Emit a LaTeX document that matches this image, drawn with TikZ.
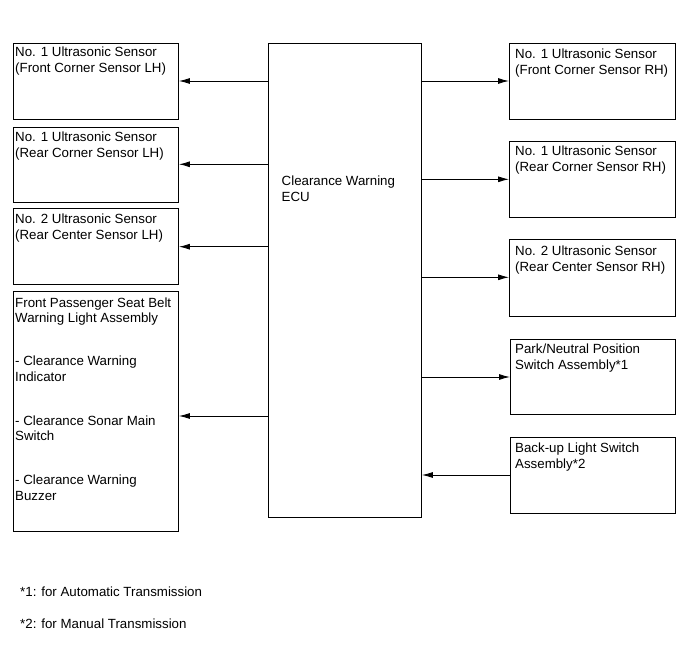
\documentclass[tikz,border=0pt]{standalone}
\usepackage{fontspec}
\setmainfont{Liberation Sans}
\usetikzlibrary{arrows.meta}
\begin{document}
\begin{tikzpicture}[x=1pt,y=1pt,
  box/.style={draw=black, line width=0.9pt, rectangle, inner sep=0pt, anchor=north west},
  txt/.style={inner sep=0pt, anchor=base west, font=\fontsize{13.3}{16}\selectfont},
  arr/.style={draw=black, line width=0.9pt, -{Latex[length=11pt,width=6pt]}}]
\useasboundingbox (0,0) rectangle (690,-660);
\fill[white] (0,0) rectangle (690,-660);
% left boxes
\node[box, minimum width=165.3pt, minimum height=76.3pt] (l1) at (12.7,-42.7) {};
\node[box, minimum width=165.3pt, minimum height=75.3pt] (l2) at (12.7,-126.7) {};
\node[box, minimum width=165.3pt, minimum height=75.7pt] (l3) at (12.7,-208.3) {};
\node[box, minimum width=165.3pt, minimum height=240pt] (l4) at (12.7,-291) {};
% ECU
\node[box, minimum width=153pt, minimum height=474pt] (ecu) at (268,-43) {};
% right boxes
\node[box, minimum width=166pt, minimum height=76pt] (r1) at (509,-43) {};
\node[box, minimum width=166pt, minimum height=75.7pt] (r2) at (509,-141) {};
\node[box, minimum width=166pt, minimum height=76.7pt] (r3) at (509,-239) {};
\node[box, minimum width=165pt, minimum height=75pt] (r4) at (510,-339) {};
\node[box, minimum width=165pt, minimum height=76pt] (r5) at (510,-437) {};
% texts
\node[txt] (l1a) at (15,-56.5) {No. 1 Ultrasonic Sensor};
\node[txt] (l1b) at (15,-72.5) {(Front Corner Sensor LH)};
\node[txt] (l2a) at (15,-141.5) {No. 1 Ultrasonic Sensor};
\node[txt] (l2b) at (15,-157.5) {(Rear Corner Sensor LH)};
\node[txt] (l3a) at (15,-224) {No. 2 Ultrasonic Sensor};
\node[txt] (l3b) at (15,-240) {(Rear Center Sensor LH)};
\node[txt] (l4a) at (15,-307) {Front Passenger Seat Belt};
\node[txt] (l4b) at (15,-322.5) {Warning Light Assembly};
\node[txt] (l4c) at (15,-365.5) {- Clearance Warning};
\node[txt] (l4d) at (15,-381) {Indicator};
\node[txt] (l4e) at (15,-425) {- Clearance Sonar Main};
\node[txt] (l4f) at (15,-440.5) {Switch};
\node[txt] (l4g) at (15,-484.5) {- Clearance Warning};
\node[txt] (l4h) at (15,-500) {Buzzer};
\node[txt] (ecua) at (281.5,-186) {Clearance Warning};
\node[txt] (ecub) at (281.5,-202) {ECU};
\node[txt] (r1a) at (515,-59) {No. 1 Ultrasonic Sensor};
\node[txt] (r1b) at (515,-75) {(Front Corner Sensor RH)};
\node[txt] (r2a) at (515,-156) {No. 1 Ultrasonic Sensor};
\node[txt] (r2b) at (515,-172) {(Rear Corner Sensor RH)};
\node[txt] (r3a) at (515,-255) {No. 2 Ultrasonic Sensor};
\node[txt] (r3b) at (515,-271) {(Rear Center Sensor RH)};
\node[txt] (r4a) at (515,-353.5) {Park/Neutral Position};
\node[txt] (r4b) at (515,-369.5) {Switch Assembly*1};
\node[txt] (r5a) at (515,-452.5) {Back-up Light Switch};
\node[txt] (r5b) at (515,-468.5) {Assembly*2};
\node[txt] (fn1) at (20,-596) {*1: for Automatic Transmission};
\node[txt] (fn2) at (20,-628.5) {*2: for Manual Transmission};
% connector heights
\coordinate (y1) at (0,-81);
\coordinate (y2) at (0,-164.3);
\coordinate (y3) at (0,-246.7);
\coordinate (y4) at (0,-416);
\coordinate (z1) at (0,-81);
\coordinate (z2) at (0,-179.3);
\coordinate (z3) at (0,-277.3);
\coordinate (z4) at (0,-377);
\coordinate (z5) at (0,-475);
% connectors
\draw[arr] (y1 -| ecu.west) -- (y1 -| l1.east);
\draw[arr] (y2 -| ecu.west) -- (y2 -| l2.east);
\draw[arr] (y3 -| ecu.west) -- (y3 -| l3.east);
\draw[arr] (y4 -| ecu.west) -- (y4 -| l4.east);
\draw[arr] (z1 -| ecu.east) -- (z1 -| r1.west);
\draw[arr] (z2 -| ecu.east) -- (z2 -| r2.west);
\draw[arr] (z3 -| ecu.east) -- (z3 -| r3.west);
\draw[arr] (z4 -| ecu.east) -- (z4 -| r4.west);
\draw[arr] (z5 -| r5.west) -- (z5 -| ecu.east);
\end{tikzpicture}
\end{document}
